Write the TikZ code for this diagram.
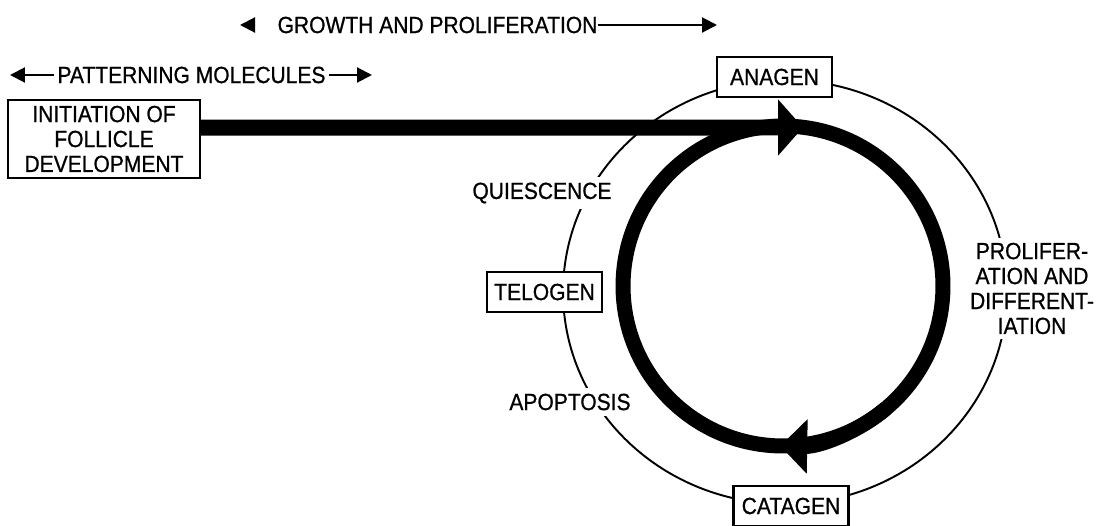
\documentclass[tikz,border=0pt]{standalone}
\usepackage{fontspec}
\setmainfont{Liberation Sans}[FakeStretch=0.9, FakeBold=0.8]
\usetikzlibrary{arrows.meta, positioning, calc}
\tikzstyle{startbox} = [rectangle, draw=black, line width=1.2pt, fill=white, minimum width=3.84cm, minimum height=1.56cm, align=center]
\tikzstyle{stage} = [rectangle, draw=black, line width=1.2pt, fill=white, minimum width=2.3cm, minimum height=0.8cm, inner sep=1pt, text centered]
\tikzstyle{phasetext} = [fill=white, inner sep=3pt, text centered]
\tikzstyle{orbit} = [line width=1.1pt]
\tikzstyle{ring} = [line width=0.3cm]
\tikzstyle{thinarrow} = [line width=1.2pt, -{Triangle[length=0.3cm, width=0.3cm]}]
\tikzstyle{bigarrow} = [line width=0.32cm, -{Triangle[length=0.5cm, width=1.1cm]}]

\begin{document}
\begin{tikzpicture}[x=0.02cm, y=0.02cm, font=\fontsize{13.3}{14.2}\selectfont]
\useasboundingbox (0,0) rectangle (1101,525);
\coordinate (hub) at (783,239);
\coordinate (rim) at (785,233);
\draw [orbit] (rim) ellipse [x radius=4.44cm, y radius=4.24cm];

\node (init) [startbox] at (104,386) {INITIATION OF\\FOLLICLE\\DEVELOPMENT};
\node (anagen) [stage] at (774.5,448) {ANAGEN};
\node (telogen) [stage] at (544.5,233) {TELOGEN};
\node (catagen) [stage] at (791,19) {CATAGEN};
\node (quies) [phasetext] at (542,332) {QUIESCENCE};
\node (apop) [phasetext] at (570,123) {APOPTOSIS};
\node (prolif) [phasetext, align=center] at (1032,236.5) {PROLIFER-\\ATION AND\\DIFFERENT-\\IATION};
\node (growth) [phasetext, inner sep=0pt] at (437.5,500) {GROWTH AND PROLIFERATION};
\node (pattern) [phasetext, inner sep=2pt] at (191.5,450) {PATTERNING MOLECULES};

\coordinate (gleft) at (240,500);
\coordinate (gright) at (717,500);
\coordinate (pleft) at (10,450);
\coordinate (pright) at (372,450);
\coordinate (tip) at (803,397.5);

\draw [thinarrow] ([xshift=-0.44cm]growth.west) -- (gleft);
\draw [thinarrow] (growth.east) -- (gright);
\draw [thinarrow] (pattern.west) -- (pleft);
\draw [thinarrow] (pattern.east) -- (pright);

\draw [ring] (hub) circle [radius=3.2cm];
\draw [ring, -{Triangle[length=0.54cm, width=1.06cm]}] ([shift={(-50:3.2cm)}]hub) arc [start angle=-50, end angle=-91, radius=3.2cm];
\draw [bigarrow] ([yshift=0.23cm]init.east) -- (tip);
\end{tikzpicture}
\end{document}
